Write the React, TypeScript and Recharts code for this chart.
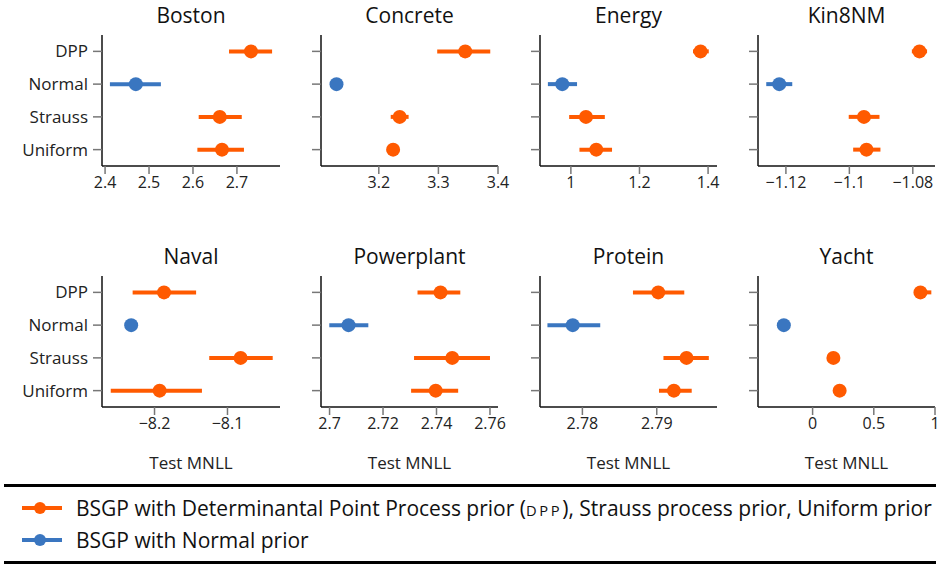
import { ScatterChart, Scatter, XAxis, YAxis, ErrorBar, Label } from 'recharts'

const CATEGORIES = ['DPP', 'Normal', 'Strauss', 'Uniform']
const BLUE_GROUP = ['Normal']
const ORANGE = '#ff5a00'
const BLUE = '#3a76c0'
const FONT = '"Open Sans", "Noto Sans", sans-serif'

// [low, mean, high] for DPP, Normal, Strauss, Uniform
const boston = [[2.682, 2.732, 2.78], [2.411, 2.47, 2.527], [2.613, 2.661, 2.711], [2.61, 2.666, 2.716]]
const concrete = [[3.298, 3.345, 3.387], [3.125, 3.129, 3.133], [3.22, 3.235, 3.25], [3.219, 3.224, 3.229]]
const energy = [[1.356, 1.378, 1.402], [0.933, 0.975, 1.018], [0.995, 1.044, 1.099], [1.025, 1.074, 1.12]]
const kin8nm = [[-1.0803, -1.0779, -1.0755], [-1.1262, -1.1221, -1.118], [-1.1002, -1.0954, -1.0905], [-1.0988, -1.0946, -1.0902]]
const naval = [[-8.23, -8.187, -8.143], [-8.235, -8.232, -8.229], [-8.125, -8.082, -8.038], [-8.26, -8.193, -8.135]]
const powerplant = [[2.7329, 2.7415, 2.7489], [2.6999, 2.7071, 2.7145], [2.7316, 2.7459, 2.76], [2.7305, 2.7397, 2.7481]]
const protein = [[2.7868, 2.7902, 2.7937], [2.7753, 2.7787, 2.7824], [2.7909, 2.794, 2.797], [2.7903, 2.7923, 2.7947]]
const yacht = [[0.83, 0.881, 0.97], [-0.25, -0.235, -0.22], [0.15, 0.17, 0.19], [0.2, 0.221, 0.24]]

const bostonTicks = [2.4, 2.5, 2.6, 2.7]
const concreteTicks = [3.2, 3.3, 3.4]
const energyTicks = [1, 1.2, 1.4]
const kin8nmTicks = [-1.12, -1.1, -1.08]
const navalTicks = [-8.2, -8.1]
const powerplantTicks = [2.7, 2.72, 2.74, 2.76]
const proteinTicks = [2.78, 2.79]
const yachtTicks = [0, 0.5, 1]

const PANELS = [
  { title: 'Boston', rows: boston, ticks: bostonTicks, domain: [2.393, 2.798] },
  { title: 'Concrete', rows: concrete, ticks: concreteTicks, domain: [3.103, 3.4] },
  { title: 'Energy', rows: energy, ticks: energyTicks, domain: [0.91, 1.426] },
  { title: 'Kin8NM', rows: kin8nm, ticks: kin8nmTicks, domain: [-1.1288, -1.073] },
  { title: 'Naval', rows: naval, ticks: navalTicks, domain: [-8.272, -8.028] },
  { title: 'Powerplant', rows: powerplant, ticks: powerplantTicks, domain: [2.6968, 2.763] },
  { title: 'Protein', rows: protein, ticks: proteinTicks, domain: [2.7743, 2.7981] },
  { title: 'Yacht', rows: yacht, ticks: yachtTicks, domain: [-0.446, 1.0] },
]

// layout of the 2x4 grid (plot area edges in page pixels)
const COL_LEFT = [102, 321, 540, 758]
const COL_RIGHT = [280, 498, 717, 935]
const ROW_TOP = [35, 276]
const ROW_BOTTOM = [166, 407]
const X_AXIS_H = 70
const RIGHT_PAD = 12

const fmt = (v: number) => (v < 0 ? '\u2212' : '') + String(Math.abs(v))

const dot = (color: string) => (p: any) => <circle cx={p.cx} cy={p.cy} r={7} fill={color} />

function Panel({ panel, index }: { panel: typeof PANELS[number]; index: number }) {
  const col = index % 4
  const row = Math.floor(index / 4)
  const yw = col === 0 ? 100 : 14
  const left = COL_LEFT[col] - yw
  const top = ROW_TOP[row]
  const width = COL_RIGHT[col] - left + RIGHT_PAD
  const height = ROW_BOTTOM[row] - top + X_AXIS_H

  const points = CATEGORIES.map((cat, i) => {
    const [lo, mean, hi] = panel.rows[i]
    return { cat, idx: i, mean, err: [mean - lo, hi - mean] }
  })
  const orangePts = points.filter((p) => !BLUE_GROUP.includes(p.cat))
  const bluePts = points.filter((p) => BLUE_GROUP.includes(p.cat))

  return (
    <>
      <div
        style={{
          position: 'absolute', left: COL_LEFT[col], width: COL_RIGHT[col] - COL_LEFT[col],
          top: top - 33, height: 26, lineHeight: '26px', textAlign: 'center',
          fontFamily: FONT, fontSize: 21, color: '#111',
        }}
      >
        {panel.title}
      </div>
      <div style={{ position: 'absolute', left, top }}>
        <ScatterChart width={width} height={height} margin={{ top: 0, right: RIGHT_PAD, bottom: 0, left: 0 }}>
          <XAxis
            type="number"
            dataKey="mean"
            domain={panel.domain}
            allowDataOverflow
            ticks={panel.ticks}
            interval={0}
            tickFormatter={fmt}
            height={X_AXIS_H}
            tickSize={8}
            tickMargin={3}
            axisLine={{ stroke: '#111', strokeWidth: 1.5 }}
            tickLine={{ stroke: '#777', strokeWidth: 1.5 }}
            tick={{ fill: '#222', fontSize: 16, fontFamily: FONT }}
          >
            {row === 1 && (
              <Label value="Test MNLL" position="insideBottom" offset={8}
                style={{ fill: '#222', fontSize: 17, fontFamily: FONT }} />
            )}
          </XAxis>
          <YAxis
            type="number"
            dataKey="idx"
            domain={[-0.5, 3.5]}
            allowDataOverflow
            reversed
            ticks={[0, 1, 2, 3]}
            interval={0}
            width={yw}
            tickFormatter={(v: number) => (col === 0 ? CATEGORIES[v] : '')}
            tickSize={9}
            tickMargin={5}
            axisLine={{ stroke: '#111', strokeWidth: 1.5 }}
            tickLine={{ stroke: '#777', strokeWidth: 1.5 }}
            tick={{ fill: '#222', fontSize: 17, fontFamily: FONT }}
          />
          <Scatter data={orangePts} fill={ORANGE} shape={dot(ORANGE)} isAnimationActive={false}>
            <ErrorBar dataKey="err" direction="x" width={0} stroke={ORANGE} strokeWidth={4} />
          </Scatter>
          <Scatter data={bluePts} fill={BLUE} shape={dot(BLUE)} isAnimationActive={false}>
            <ErrorBar dataKey="err" direction="x" width={0} stroke={BLUE} strokeWidth={4} />
          </Scatter>
        </ScatterChart>
      </div>
    </>
  )
}

function LegendIcon({ color }: { color: string }) {
  return (
    <svg width={44} height={16} style={{ display: 'block' }}>
      <line x1={2} y1={8} x2={42} y2={8} stroke={color} strokeWidth={4} />
      <circle cx={20} cy={8} r={6} fill={color} />
    </svg>
  )
}

export default function App() {
  return (
    <div style={{ position: 'absolute', left: 0, top: 0, width: 940, height: 568, background: '#fff', overflow: 'hidden' }}>
      {PANELS.map((p, i) => (
        <Panel key={p.title} panel={p} index={i} />
      ))}
      <div style={{ position: 'absolute', left: 4, right: 4, top: 484, height: 3, background: '#000' }} />
      <div style={{ position: 'absolute', left: 4, right: 4, top: 561, height: 3, background: '#000' }} />
      <div style={{ position: 'absolute', left: 20, top: 500, height: 16, display: 'flex', alignItems: 'center' }}>
        <LegendIcon color={ORANGE} />
      </div>
      <div style={{ position: 'absolute', left: 20, top: 532, height: 16, display: 'flex', alignItems: 'center' }}>
        <LegendIcon color={BLUE} />
      </div>
      <div style={{ position: 'absolute', left: 76, top: 493, lineHeight: '30px', fontFamily: FONT, fontSize: 21, color: '#111', whiteSpace: 'nowrap' }}>
        BSGP with Determinantal Point Process prior (
        <span style={{ fontSize: '0.7em', letterSpacing: '0.18em' }}>DPP</span>
        ), Strauss process prior, Uniform prior
      </div>
      <div style={{ position: 'absolute', left: 76, top: 525, lineHeight: '30px', fontFamily: FONT, fontSize: 21, color: '#111', whiteSpace: 'nowrap' }}>
        BSGP with Normal prior
      </div>
    </div>
  )
}
